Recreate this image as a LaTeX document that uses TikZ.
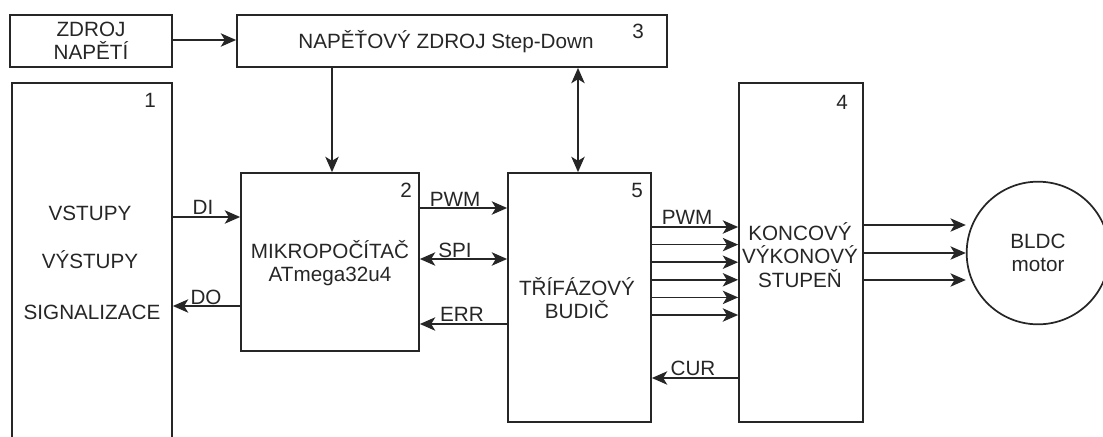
\documentclass[tikz,border=0pt]{standalone}
\usepackage{fontspec}
\setmainfont{Liberation Sans}
\usetikzlibrary{arrows.meta,fit,calc}
\begin{document}
\begin{tikzpicture}[x=0.75pt,y=-0.75pt,
  font=\fontsize{15.5}{17.5}\selectfont,
  box/.style={draw=black!85,line width=1.3pt,inner sep=0pt},
  txt/.style={text=black!85,align=center,inner sep=0pt},
  num/.style={text=black!85,inner sep=0pt},
  lbl/.style={text=black!85,inner sep=0pt},
  tip/.style={},
  arr/.style={draw=black!85,line width=1.3pt,-{Stealth[length=11.5pt,width=10pt,inset=3pt]}},
  darr/.style={draw=black!85,line width=1.3pt,{Stealth[length=11.5pt,width=10pt,inset=3pt]}-{Stealth[length=11.5pt,width=10pt,inset=3pt]}}
]
\useasboundingbox (0,0) rectangle (1103,436);
\clip (0,0) rectangle (1103,436);
% boxes
\coordinate (z1) at (10,15); \coordinate (z2) at (172,67);
\node[box,fit=(z1)(z2)] (zdroj) {};
\node[txt] (zdrojt) at (91,41) {ZDROJ\\NAPĚTÍ};
\coordinate (s1) at (237,15); \coordinate (s2) at (667,67);
\node[box,fit=(s1)(s2)] (step) {};
\node[txt] (stept) at (446,42) {NAPĚŤOVÝ ZDROJ Step-Down};
\node[num] (n3) at (638,31) {3};
\coordinate (b1a) at (12,83); \coordinate (b1b) at (172,450);
\node[box,fit=(b1a)(b1b)] (io) {};
\node[num] (n1) at (150,100) {1};
\node[txt] (vst) at (90,213) {VSTUPY};
\node[txt] (vyst) at (90,260) {VÝSTUPY};
\node[txt] (sig) at (92,312) {SIGNALIZACE};
\coordinate (b2a) at (241,173); \coordinate (b2b) at (419,351);
\node[box,fit=(b2a)(b2b)] (mcu) {};
\node[num] (n2) at (406,190) {2};
\node[txt] (mcut) at (330,263) {MIKROPOČÍTAČ\\ATmega32u4};
\coordinate (b5a) at (508,173); \coordinate (b5b) at (651,422);
\node[box,fit=(b5a)(b5b)] (drv) {};
\node[num] (n5) at (637,190) {5};
\node[txt] (drvt) at (577,298) {TŘÍFÁZOVÝ\\BUDIČ};
\coordinate (b4a) at (739,83); \coordinate (b4b) at (863,422);
\node[box,fit=(b4a)(b4b)] (pwr) {};
\node[num] (n4) at (842,102) {4};
\node[txt] (pwrt) at (800,255) {KONCOVÝ\\VÝKONOVÝ\\STUPEŇ};
\node[box,circle,minimum size=107pt] (motor) at (1038,253) {};
\node[txt] (motort) at (1038,253) {BLDC\\motor};
% connectors
\draw[arr] (zdroj.east |- 0,40) -- (step.west |- 0,40);
\draw[arr] (step.south -| 332,0) -- (mcu.north -| 332,0);
\draw[darr] (step.south -| 578,0) -- (drv.north -| 578,0);
\draw[arr] (io.east |- 0,217) -- (mcu.west |- 0,217);
\node[lbl] (di) at (203,207) {DI};
\draw[arr] (mcu.west |- 0,306) -- (io.east |- 0,306);
\node[lbl] (do) at (206,297) {DO};
\draw[arr] (mcu.east |- 0,208) -- (drv.west |- 0,208);
\node[lbl] (pwm1) at (455,199) {PWM};
\draw[darr] (mcu.east |- 0,259) -- (drv.west |- 0,259);
\node[lbl] (spi) at (455,250) {SPI};
\draw[arr] (drv.west |- 0,324) -- (mcu.east |- 0,324);
\node[lbl] (err) at (462,314) {ERR};
\foreach \yy in {227,244.6,262.2,279.8,297.4,315}{
  \draw[arr] (drv.east |- 0,\yy) -- (pwr.west |- 0,\yy);
}
\node[lbl] (pwm2) at (687,217) {PWM};
\draw[arr] (pwr.west |- 0,378) -- (drv.east |- 0,378);
\node[lbl] (cur) at (693,368) {CUR};
\foreach \yy in {225,253,280}{
  \draw[arr] (pwr.east |- 0,\yy) -- (motor.west |- 0,\yy);
}
\end{tikzpicture}
\end{document}
